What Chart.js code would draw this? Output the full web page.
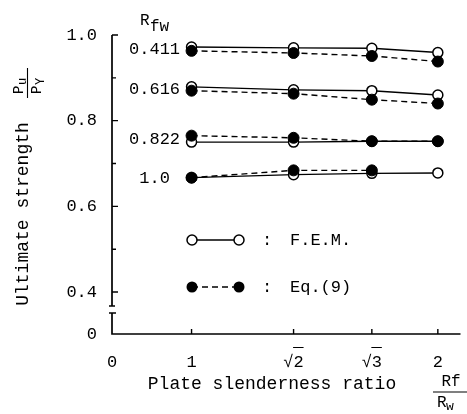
<!DOCTYPE html>
<html>
<head>
<meta charset="utf-8">
<script src="https://cdn.jsdelivr.net/npm/chart.js@4.4.1/dist/chart.umd.min.js"></script>
<style>
  html, body { margin: 0; padding: 0; background: #fff; }
  #wrap { width: 467px; height: 414px; position: relative; }
</style>
</head>
<body>
<div id="wrap"><canvas id="c" width="467" height="414"></canvas></div>
<script>
// ---- data ----
const slenderness = [1, Math.SQRT2, Math.sqrt(3), 2];
const xTickLabels = ['0', '1', '√2', '√3', '2'];
const yTickLabels = ['0', '0.4', '0.6', '0.8', '1.0'];
const yTickValues = [0.4, 0.6, 0.8, 1.0];
const yMinorValues = [0.5, 0.7, 0.9];
const rfwLabels = ['0.411', '0.616', '0.822', '1.0'];

const fem411 = [0.972, 0.970, 0.969, 0.959];
const eq411  = [0.963, 0.958, 0.951, 0.938];
const fem616 = [0.879, 0.872, 0.870, 0.860];
const eq616  = [0.870, 0.863, 0.849, 0.840];
const fem822 = [0.750, 0.750, 0.752, 0.752];
const eq822  = [0.765, 0.760, 0.752, 0.752];
const fem10  = [0.667, 0.674, 0.677, 0.678];
const eq10   = [0.667, 0.684, 0.684, null];

const X_MIN = 0.677, X_MAX = 2.092;   // axis break: left end labelled 0
const Y_MIN = 0.302, Y_MAX = 1.0;     // axis break: bottom labelled 0

const FONT = '"Liberation Mono", "DejaVu Sans Mono", monospace';

function pts(arr) { return arr.map((v, i) => ({ x: slenderness[i], y: v })); }

const femSeries = [fem411, fem616, fem822, fem10];
const eqSeries = [eq411, eq616, eq822, eq10];

const datasets = [];
femSeries.forEach((s, k) => {
  datasets.push({
    label: 'F.E.M. ' + rfwLabels[k], data: pts(s), order: 1,
    borderColor: '#000', borderWidth: 1.4, pointRadius: 5, pointHoverRadius: 5,
    pointBackgroundColor: '#fff', pointBorderColor: '#000', pointBorderWidth: 1.5,
    tension: 0, fill: false
  });
});
eqSeries.forEach((s, k) => {
  datasets.push({
    label: 'Eq.(9) ' + rfwLabels[k], data: pts(s), order: 0,
    borderColor: '#000', borderWidth: 1.4, borderDash: [6, 4], pointRadius: 5.5, pointHoverRadius: 5.5,
    pointBackgroundColor: '#000', pointBorderColor: '#000', pointBorderWidth: 1,
    tension: 0, fill: false
  });
});

const decor = {
  id: 'decor',
  afterDraw(chart) {
    const ctx = chart.ctx, xs = chart.scales.x, ys = chart.scales.y, ca = chart.chartArea;
    ctx.save();
    ctx.strokeStyle = '#000'; ctx.fillStyle = '#000';
    ctx.lineWidth = 1.7;
    const ax = ca.left, ay = ca.bottom;
    // y axis with break
    const brkTop = 306, brkBot = 313;
    ctx.beginPath();
    ctx.moveTo(ax, ca.top); ctx.lineTo(ax, brkTop);
    ctx.moveTo(ax - 3, brkTop); ctx.lineTo(ax + 3, brkTop);
    ctx.moveTo(ax - 3, brkBot); ctx.lineTo(ax + 4, brkBot);
    ctx.moveTo(ax, brkBot); ctx.lineTo(ax, ay);
    ctx.lineTo(ca.right, ay);
    ctx.stroke();
    // y ticks
    ctx.lineWidth = 1.4;
    ctx.beginPath();
    yTickValues.forEach(v => { const p = ys.getPixelForValue(v); ctx.moveTo(ax, p); ctx.lineTo(ax + 6, p); });
    yMinorValues.forEach(v => { const p = ys.getPixelForValue(v); ctx.moveTo(ax, p); ctx.lineTo(ax + 4, p); });
    // x ticks
    slenderness.forEach(v => { const p = xs.getPixelForValue(v); ctx.moveTo(p, ay); ctx.lineTo(p, ay - 5); });
    ctx.stroke();

    // overline for sqrt labels
    ctx.lineWidth = 1;
    [1, 2].forEach(i => {
      const p = xs.getPixelForValue(slenderness[i]);
      ctx.beginPath(); ctx.moveTo(p - 0.5, 347.5); ctx.lineTo(p + 10, 347.5); ctx.stroke();
    });

    // R_fw header
    ctx.textBaseline = 'alphabetic'; ctx.textAlign = 'left';
    ctx.font = '16px ' + FONT;
    ctx.fillText('R', 140, 25);
    ctx.fillText('fw', 150, 31);

    // row labels (centred left of first point)
    ctx.font = '17px ' + FONT;
    ctx.textAlign = 'center'; ctx.textBaseline = 'middle';
    const x1 = xs.getPixelForValue(slenderness[0]);
    rfwLabels.forEach((lab, k) => {
      const y = (ys.getPixelForValue(femSeries[k][0]) + ys.getPixelForValue(eqSeries[k][0])) / 2 + 1;
      ctx.fillText(lab, x1 - 37, y);
    });

    // legend
    const lx1 = 192, lx2 = 239, ly1 = 240, ly2 = 287;
    ctx.lineWidth = 1.4;
    ctx.beginPath(); ctx.moveTo(lx1, ly1); ctx.lineTo(lx2, ly1); ctx.stroke();
    ctx.setLineDash([6, 4]);
    ctx.beginPath(); ctx.moveTo(lx1, ly2); ctx.lineTo(lx2, ly2); ctx.stroke();
    ctx.setLineDash([]);
    [lx1, lx2].forEach(x => {
      ctx.beginPath(); ctx.arc(x, ly1, 5, 0, Math.PI * 2);
      ctx.fillStyle = '#fff'; ctx.fill(); ctx.lineWidth = 1.5; ctx.stroke();
      ctx.beginPath(); ctx.arc(x, ly2, 5.5, 0, Math.PI * 2);
      ctx.fillStyle = '#000'; ctx.fill();
    });
    ctx.fillStyle = '#000';
    ctx.textAlign = 'left';
    ctx.font = '17px ' + FONT;
    ctx.fillText(':', 262, ly1);
    ctx.fillText('F.E.M.', 290, ly1);
    ctx.fillText(':', 262, ly2);
    ctx.fillText('Eq.(9)', 290, ly2);

    // x title
    ctx.font = '18px ' + FONT;
    ctx.textAlign = 'center'; ctx.textBaseline = 'middle';
    ctx.fillText('Plate slenderness ratio', 272, 384);
    // Rf / Rw fraction
    ctx.font = '16px ' + FONT;
    ctx.fillText('Rf', 451, 382);
    ctx.lineWidth = 1.2;
    ctx.beginPath(); ctx.moveTo(433, 392); ctx.lineTo(467, 392); ctx.stroke();
    ctx.textAlign = 'left';
    ctx.fillText('R', 437, 403);
    ctx.font = '13px ' + FONT;
    ctx.fillText('w', 446, 407);

    // y title (rotated)
    ctx.save();
    ctx.translate(23, 214);
    ctx.rotate(-Math.PI / 2);
    ctx.font = '18px ' + FONT;
    ctx.textAlign = 'center'; ctx.textBaseline = 'middle';
    ctx.fillText('Ultimate strength', 0, 0);
    ctx.restore();
    // Pu / PY fraction (rotated)
    ctx.save();
    ctx.translate(27.5, 83);
    ctx.rotate(-Math.PI / 2);
    ctx.lineWidth = 1.1;
    ctx.beginPath(); ctx.moveTo(-15, 0); ctx.lineTo(15, 0); ctx.stroke();
    ctx.textAlign = 'left'; ctx.textBaseline = 'alphabetic';
    ctx.font = '14px ' + FONT;
    ctx.fillText('P', -11, -5);
    ctx.font = '12px ' + FONT;
    ctx.fillText('u', -2, -2);
    ctx.font = '14px ' + FONT;
    ctx.fillText('P', -11, 13);
    ctx.font = '12px ' + FONT;
    ctx.fillText('Y', -2, 16);
    ctx.restore();

    ctx.restore();
  }
};

new Chart(document.getElementById('c'), {
  type: 'line',
  data: { datasets },
  options: {
    responsive: false,
    animation: false,
    events: [],
    layout: { padding: { top: 35, left: 0, right: 0, bottom: 0 } },
    plugins: { legend: { display: false }, tooltip: { enabled: false } },
    scales: {
      x: {
        type: 'linear', min: X_MIN, max: X_MAX,
        grid: { display: false }, border: { display: false },
        afterBuildTicks: s => { s.ticks = [X_MIN, ...slenderness].map(v => ({ value: v })); },
        afterFit: s => { s.height = 80; },
        ticks: {
          color: '#000', padding: 10, maxRotation: 0, autoSkip: false,
          font: { family: FONT, size: 17 },
          callback: (v, i) => xTickLabels[i]
        }
      },
      y: {
        type: 'linear', min: Y_MIN, max: Y_MAX,
        grid: { display: false }, border: { display: false },
        afterBuildTicks: s => { s.ticks = [Y_MIN, ...yTickValues].map(v => ({ value: v })); },
        afterFit: s => { s.width = 112; },
        ticks: {
          color: '#000', padding: 7, autoSkip: false,
          font: { family: FONT, size: 17 },
          callback: (v, i) => yTickLabels[i]
        }
      }
    }
  },
  plugins: [decor]
});
</script>
</body>
</html>
